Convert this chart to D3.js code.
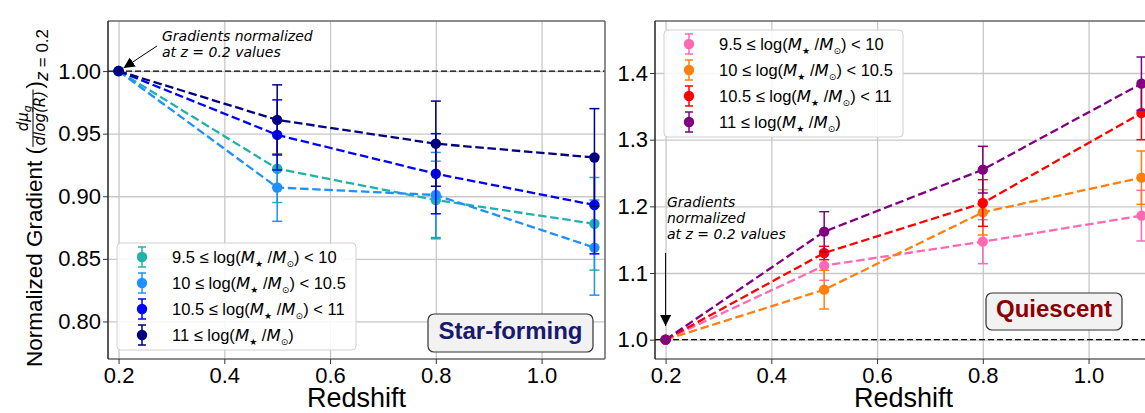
<!DOCTYPE html>
<html>
<head>
<meta charset="utf-8">
<script src="https://cdn.jsdelivr.net/npm/d3@7"></script>
<style>
  body { margin: 0; background: #fff; }
  text { font-family: "Liberation Sans", Arial, sans-serif; }
  .note { font-family: "DejaVu Sans", sans-serif; font-style: italic; font-size: 14px; }
  .math { font-family: "DejaVu Sans", sans-serif; font-style: italic; }
  .sym { font-family: "DejaVu Sans", sans-serif; }
</style>
</head>
<body>
<div id="chart"></div>
<script>
const W = 1145, H = 413;
const TOP = 21, BOTTOM = 359, PANEL_W = 497; // axes box
const redshift = [0.2, 0.5, 0.8, 1.1];
const xTicks = [0.2, 0.4, 0.6, 0.8, 1.0];
const sfTicks = [0.80, 0.85, 0.90, 0.95, 1.00];
const qTicks = [1.0, 1.1, 1.2, 1.3, 1.4];
const binLo = ["9.5", "10", "10.5", "11"];
const binHi = ["10", "10.5", "11", null];

// star-forming
const sfColors = ["#20b2aa", "#1e90ff", "#0000ff", "#000080"];
const sfGrad = [
  [1.0, 0.922, 0.897, 0.878],
  [1.0, 0.907, 0.901, 0.859],
  [1.0, 0.949, 0.918, 0.893],
  [1.0, 0.961, 0.942, 0.931]
];
const sfErr = [
  [0, 0.027, 0.031, 0.037],
  [0, 0.027, 0.034, 0.038],
  [0, 0.028, 0.032, 0.039],
  [0, 0.028, 0.034, 0.039]
];
// quiescent
const qColors = ["#ff69b4", "#ff7f0e", "#ff0000", "#800080"];
const qGrad = [
  [1.0, 1.111, 1.147, 1.186],
  [1.0, 1.075, 1.191, 1.243],
  [1.0, 1.130, 1.205, 1.340],
  [1.0, 1.162, 1.255, 1.384]
];
const qErr = [
  [0, 0.022, 0.033, 0.038],
  [0, 0.029, 0.034, 0.040],
  [0, 0.010, 0.035, 0.040],
  [0, 0.030, 0.035, 0.040]
];

const svg = d3.select("#chart").append("svg")
  .attr("width", W).attr("height", H);

// arrow head marker
svg.append("defs").append("marker")
  .attr("id", "head").attr("viewBox", "0 0 10 10")
  .attr("refX", 10).attr("refY", 5)
  .attr("markerWidth", 11).attr("markerHeight", 11)
  .attr("markerUnits", "userSpaceOnUse")
  .attr("orient", "auto")
  .append("path").attr("d", "M0,0L10,5L0,10Z").attr("fill", "#000");

// legend label: lo <= log(M*/Msun) < hi
function massLabel(sel, lo, hi) {
  const parts = [[lo + " \u2264 log(", ""], ["M", "i"], ["\u2605", "sub"], [" /", ""], ["M", "i"], ["\u2299", "sub"], [")", ""]];
  if (hi) parts.push([" < " + hi, ""]);
  let shifted = false;
  parts.forEach(p => {
    const ts = sel.append("tspan").text(p[0]);
    if (p[1] == "i") ts.attr("class", "math");
    if (p[1] == "sub") { ts.attr("class", "sym").attr("dy", 4).style("font-size", "9px"); shifted = true; }
    else if (shifted) { ts.attr("dy", -4); shifted = false; }
  });
}

function drawPanel(left, ylim, yTicks, yFmt, values, errs, colors, legendPos) {
  const x = d3.scaleLinear().domain([0.18, 1.12]).range([left, left + PANEL_W]);
  const y = d3.scaleLinear().domain(ylim).range([BOTTOM, TOP]);
  const g = svg.append("g");

  // grid
  g.append("g").attr("transform", "translate(0," + BOTTOM + ")")
    .call(d3.axisBottom(x).tickValues(xTicks).tickSize(-(BOTTOM - TOP)).tickFormat(""))
    .call(a => a.select(".domain").remove())
    .selectAll("line").attr("stroke", "#c8c8c8").attr("stroke-width", 1.3);
  g.append("g").attr("transform", "translate(" + left + ",0)")
    .call(d3.axisLeft(y).tickValues(yTicks).tickSize(-PANEL_W).tickFormat(""))
    .call(a => a.select(".domain").remove())
    .selectAll("line").attr("stroke", "#c8c8c8").attr("stroke-width", 1.3);

  // reference line at 1
  g.append("line")
    .attr("x1", left).attr("x2", left + PANEL_W)
    .attr("y1", y(1)).attr("y2", y(1))
    .attr("stroke", "#000").attr("stroke-width", 1.3)
    .attr("stroke-dasharray", "6,3");

  const line = d3.line().x((d, i) => x(redshift[i])).y(d => y(d));
  values.forEach((vals, s) => {
    const c = colors[s];
    const sg = g.append("g");
    sg.append("path").datum(vals).attr("d", line)
      .attr("fill", "none").attr("stroke", c)
      .attr("stroke-width", 2.3).attr("stroke-dasharray", "8.5,3.7");
    const eb = sg.selectAll("g.eb").data(vals).join("g").attr("class", "eb");
    eb.append("line")
      .attr("x1", (d, i) => x(redshift[i])).attr("x2", (d, i) => x(redshift[i]))
      .attr("y1", (d, i) => y(d - errs[s][i])).attr("y2", (d, i) => y(d + errs[s][i]))
      .attr("stroke", c).attr("stroke-width", 1.5);
    [-1, 1].forEach(sign => {
      eb.append("line")
        .attr("x1", (d, i) => x(redshift[i]) - 5).attr("x2", (d, i) => x(redshift[i]) + 5)
        .attr("y1", (d, i) => y(d + sign * errs[s][i])).attr("y2", (d, i) => y(d + sign * errs[s][i]))
        .attr("stroke", c).attr("stroke-width", 1.5);
    });
    sg.selectAll("circle").data(vals).join("circle")
      .attr("cx", (d, i) => x(redshift[i])).attr("cy", d => y(d))
      .attr("r", 5.2).attr("fill", c);
  });

  // spines
  const sp = [
    [left, TOP, left + PANEL_W, TOP, "#666"],
    [left + PANEL_W, TOP, left + PANEL_W, BOTTOM, "#666"],
    [left, BOTTOM, left + PANEL_W, BOTTOM, "#666"],
    [left, TOP, left, BOTTOM, "#222"]
  ];
  sp.forEach(s => g.append("line").attr("x1", s[0]).attr("y1", s[1]).attr("x2", s[2]).attr("y2", s[3])
    .attr("stroke", s[4]).attr("stroke-width", 1.5));

  // axes with labels
  const xa = g.append("g").attr("transform", "translate(0," + BOTTOM + ")")
    .call(d3.axisBottom(x).tickValues(xTicks).tickFormat(d3.format(".1f")).tickSize(5).tickPadding(3).tickSizeOuter(0));
  const ya = g.append("g").attr("transform", "translate(" + left + ",0)")
    .call(d3.axisLeft(y).tickValues(yTicks).tickFormat(d3.format(yFmt)).tickSize(5).tickPadding(2).tickSizeOuter(0));
  [xa, ya].forEach(a => {
    a.select(".domain").remove();
    a.selectAll("line").attr("stroke", "#333").attr("stroke-width", 1);
    a.selectAll("text").style("font-size", "22px").style("fill", "#000");
  });

  g.append("text").attr("x", left + PANEL_W / 2).attr("y", 407)
    .attr("text-anchor", "middle").style("font-size", "27px").text("Redshift");

  // legend
  const lg = g.append("g").attr("transform", "translate(" + legendPos[0] + "," + legendPos[1] + ")");
  lg.append("rect").attr("width", 239).attr("height", 107).attr("rx", 4)
    .attr("fill", "#fff").attr("fill-opacity", 0.85)
    .attr("stroke", "#d0d0d0").attr("stroke-width", 1);
  colors.forEach((c, i) => {
    const ry = 14 + i * 26;
    lg.append("line").attr("x1", 25).attr("x2", 25).attr("y1", ry - 10).attr("y2", ry + 10)
      .attr("stroke", c).attr("stroke-width", 1.5);
    [-10, 10].forEach(dy => lg.append("line").attr("x1", 21).attr("x2", 29)
      .attr("y1", ry + dy).attr("y2", ry + dy).attr("stroke", c).attr("stroke-width", 1.5));
    lg.append("circle").attr("cx", 25).attr("cy", ry).attr("r", 5.2).attr("fill", c);
    const t = lg.append("text").attr("x", 55).attr("y", ry + 6).style("font-size", "16.5px");
    massLabel(t, binLo[i], binHi[i]);
  });
  return { x, y };
}

const sf = drawPanel(108, [0.77, 1.04], sfTicks, ".2f", sfGrad, sfErr, sfColors, [117, 243]);
const q = drawPanel(655, [0.971, 1.478], qTicks, ".1f", qGrad, qErr, qColors, [664, 30]);

// panel tags
function tag(cx, base, w, h, label, color) {
  svg.append("rect").attr("x", cx - w / 2).attr("y", base - h + 13).attr("width", w).attr("height", h)
    .attr("rx", 6).attr("fill", "#f2f2f2").attr("stroke", "#333").attr("stroke-width", 1.2);
  svg.append("text").attr("x", cx).attr("y", base).attr("text-anchor", "middle")
    .style("font-size", "24px").style("font-weight", "bold").style("fill", color).text(label);
}
tag(510.5, 339, 165, 38, "Star-forming", "#191970");
tag(1054, 317, 136, 37, "Quiescent", "#8b0000");

// annotations
const n1 = svg.append("text").attr("class", "note");
n1.append("tspan").attr("x", 162).attr("y", 41).text("Gradients normalized");
n1.append("tspan").attr("x", 162).attr("y", 57).text("at z = 0.2 values");
svg.append("line").attr("x1", 157).attr("y1", 46)
  .attr("x2", sf.x(0.2) + 5).attr("y2", sf.y(1) - 3)
  .attr("stroke", "#000").attr("stroke-width", 1).attr("marker-end", "url(#head)");

const n2 = svg.append("text").attr("class", "note");
["Gradients", "normalized", "at z = 0.2 values"].forEach((s, i) =>
  n2.append("tspan").attr("x", 667).attr("y", 207 + i * 16).text(s));
svg.append("line").attr("x1", q.x(0.2)).attr("y1", 253)
  .attr("x2", q.x(0.2)).attr("y2", 326)
  .attr("stroke", "#000").attr("stroke-width", 1).attr("marker-end", "url(#head)");

// y label with fraction
const yl = svg.append("g").attr("transform", "translate(42,367) rotate(-90)");
const t1 = yl.append("text").style("font-size", "22.5px").text("Normalized Gradient (");
let cx = t1.node().getComputedTextLength();
const num = yl.append("text").attr("class", "math").attr("y", -14).attr("text-anchor", "middle").style("font-size", "15px");
num.append("tspan").text("d\u03bc");
num.append("tspan").attr("dy", 3).style("font-size", "11px").text("g");
const den = yl.append("text").attr("class", "math").attr("y", 3).attr("text-anchor", "middle").style("font-size", "15px").text("dlog(R)");
const fw = Math.max(num.node().getComputedTextLength(), den.node().getComputedTextLength()) + 3;
num.attr("x", cx + fw / 2);
den.attr("x", cx + fw / 2);
yl.append("line").attr("x1", cx).attr("x2", cx + fw).attr("y1", -9).attr("y2", -9)
  .attr("stroke", "#000").attr("stroke-width", 1);
cx += fw + 1;
const t2 = yl.append("text").attr("x", cx).style("font-size", "22.5px").text(")");
cx += t2.node().getComputedTextLength();
const sub = yl.append("text").attr("x", cx).attr("y", 6).style("font-size", "17px");
sub.append("tspan").attr("class", "math").text("z");
sub.append("tspan").text(" = 0.2");
</script>
</body>
</html>
